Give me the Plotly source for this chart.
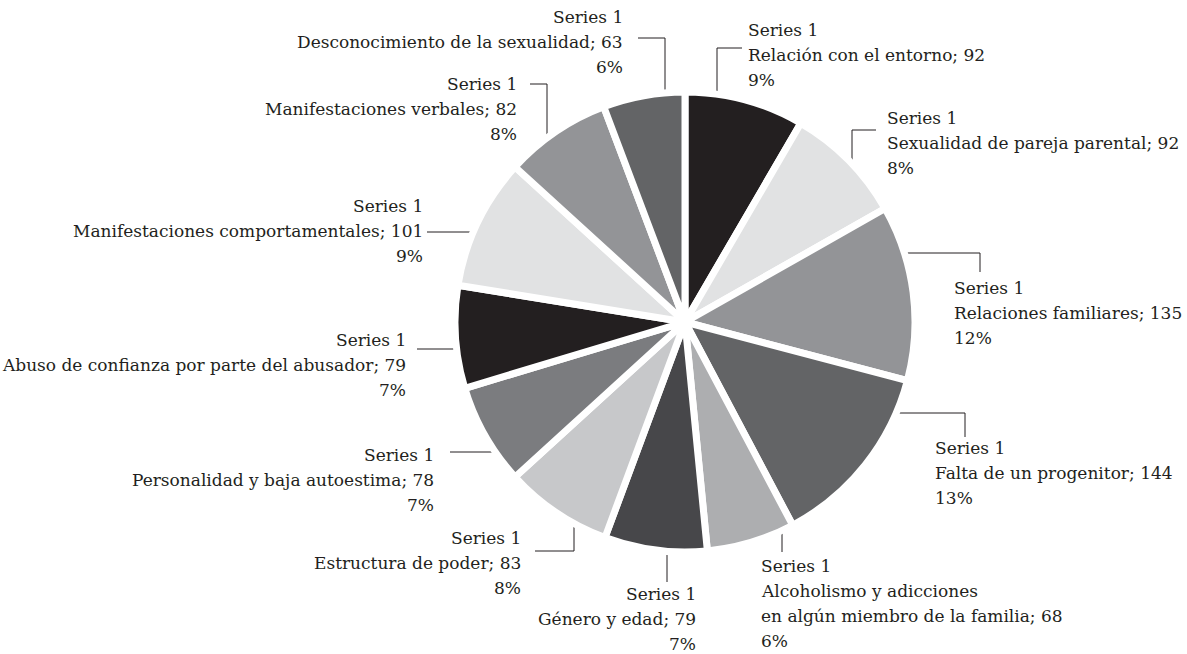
import math
import plotly.graph_objects as go

# ---------------- data ----------------
series_name = "Series 1"
categories = [
    "Relación con el entorno",
    "Sexualidad de pareja parental",
    "Relaciones familiares",
    "Falta de un progenitor",
    "Alcoholismo y adicciones en algún miembro de la familia",
    "Género y edad",
    "Estructura de poder",
    "Personalidad y baja autoestima",
    "Abuso de confianza por parte del abusador",
    "Manifestaciones comportamentales",
    "Manifestaciones verbales",
    "Desconocimiento de la sexualidad",
]
display_lines = [
    ["Relación con el entorno"],
    ["Sexualidad de pareja parental"],
    ["Relaciones familiares"],
    ["Falta de un progenitor"],
    ["Alcoholismo y adicciones", "en algún miembro de la familia"],
    ["Género y edad"],
    ["Estructura de poder"],
    ["Personalidad y baja autoestima"],
    ["Abuso de confianza por parte del abusador"],
    ["Manifestaciones comportamentales"],
    ["Manifestaciones verbales"],
    ["Desconocimiento de la sexualidad"],
]
values = [92, 92, 135, 144, 68, 79, 83, 78, 79, 101, 82, 63]
percent_labels = ["9%", "8%", "12%", "13%", "6%", "7%", "8%", "7%", "7%", "9%", "8%", "6%"]

# ---------------- style ----------------
colors = ["#231f20", "#e1e2e3", "#939497", "#636466", "#adaeb0", "#47474a",
          "#c7c8ca", "#7b7c7f", "#231f20", "#e1e2e3", "#939497", "#636466"]
W, H = 1187, 654
CX, CY, R = 685, 322, 230          # pie centre / radius in px
BORDER = 7
R_VIS = R - BORDER / 2
FONT = dict(family="DejaVu Serif", size=17, color="#231f20")
LINE_H = 25

# label placement: (side, x, first-line centre y)
label_pos = [
    ("left", 747, 30), ("left", 886, 118), ("left", 953, 288), ("left", 934, 448),
    ("left", 760, 566), ("right", 697, 594), ("right", 522, 538), ("right", 435, 455),
    ("right", 407, 340), ("right", 424, 206), ("right", 518, 84), ("right", 624, 17),
]
# leader: ("v", x at pie, elbow y, end x) or ("h", y at pie, elbow x, end y)
leaders = [
    ("v", 717, 48, 742), ("v", 852, 130, 876), ("h", 253, 980, 272), ("h", 413, 965, 437),
    ("v", 782, 552, None), ("v", 667, 582, None), ("v", 574, 551, 535), ("h", 452, 450, None),
    ("h", 349, 417, None), ("h", 232, 427, None), ("v", 547, 84, 530), ("v", 665, 38, 638),
]

fig = go.Figure()

fig.add_trace(go.Pie(
    labels=categories, values=values, sort=False, direction="clockwise", rotation=0,
    marker=dict(colors=colors, line=dict(color="white", width=BORDER)),
    textinfo="none", showlegend=False, hoverinfo="label+value+percent",
    domain=dict(x=[(CX - R) / W, (CX + R) / W], y=[1 - (CY + R) / H, 1 - (CY - R) / H]),
))

# leader lines, touching the pie edge computed from its geometry
for kind, a, b, c in leaders:
    if kind == "v":
        dy = math.sqrt(max(R_VIS ** 2 - (a - CX) ** 2, 0))
        y0 = CY - dy if b < CY else CY + dy
        xs, ys = [a, a], [y0, b]
        if c is not None:
            xs.append(c); ys.append(b)
    else:
        dx = math.sqrt(max(R_VIS ** 2 - (a - CY) ** 2, 0))
        x0 = CX - dx if b < CX else CX + dx
        xs, ys = [x0, b], [a, a]
        if c is not None:
            xs.append(b); ys.append(c)
    fig.add_trace(go.Scatter(x=xs, y=ys, mode="lines", line=dict(color="#231f20", width=1),
                             hoverinfo="skip", showlegend=False))

# data labels: one text per line so the line spacing matches
for (side, x, y1), lines, v, p in zip(label_pos, display_lines, values, percent_labels):
    texts = [series_name] + lines[:-1] + [f"{lines[-1]}; {v}", p]
    for i, t in enumerate(texts):
        fig.add_annotation(
            x=x / W, y=1 - (y1 + i * LINE_H) / H, xref="paper", yref="paper",
            text=t, showarrow=False, xanchor=side, yanchor="middle", align=side,
            font=FONT, borderpad=0,
        )

fig.update_layout(
    width=W, height=H, margin=dict(l=0, r=0, t=0, b=0),
    paper_bgcolor="white", plot_bgcolor="rgba(0,0,0,0)",
    font=dict(family="DejaVu Serif"),
    xaxis=dict(range=[0, W], visible=False, fixedrange=True),
    yaxis=dict(range=[H, 0], visible=False, fixedrange=True),
)

fig.write_html(
    "out.html",
    config={"displayModeBar": False},
    post_script="document.body.style.margin='0';document.body.style.overflow='hidden';",
)
